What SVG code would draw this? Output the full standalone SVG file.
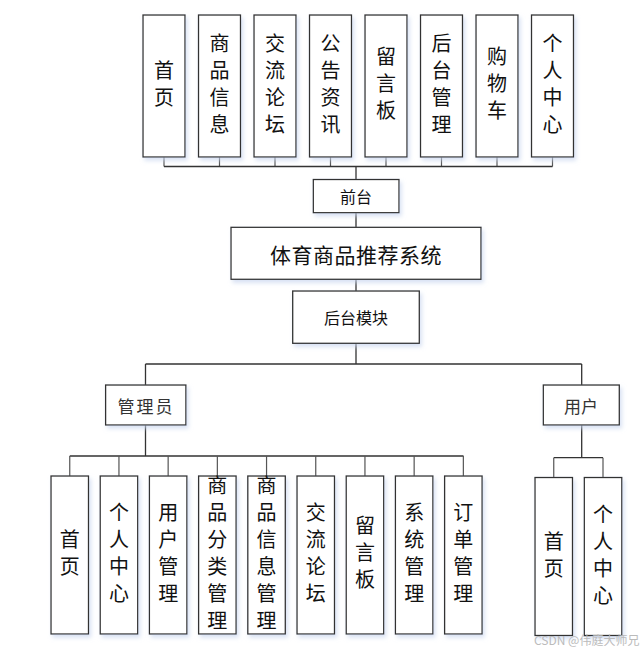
<svg xmlns="http://www.w3.org/2000/svg" width="641" height="652" viewBox="0 0 641 652">
<defs>
<filter id="sh" x="-20%" y="-20%" width="150%" height="150%">
<feDropShadow dx="2" dy="3" stdDeviation="2" flood-color="#c8d5ef" flood-opacity="0.7"/>
</filter>
<style>
.box{fill:#fff;stroke:#333;stroke-width:1.3;filter:url(#sh)}
.v{font-family:"Noto Sans CJK SC","Liberation Sans",sans-serif;font-size:20px;fill:#111;text-anchor:middle}
.h{font-family:"Noto Sans CJK SC","Liberation Sans",sans-serif;font-size:16px;fill:#111;text-anchor:middle;dominant-baseline:central}
.ln{fill:none;stroke:#333;stroke-width:1.3}
.st{fill:none;stroke:#555;stroke-width:1.2}
.wm{font-family:"Noto Sans CJK SC","Liberation Sans",sans-serif;font-size:12px;fill:#bbb}
</style>
</defs>
<rect width="641" height="652" fill="#fff"/>
<g id="connectors">
<path class="st" d="M164 157V166.5M219.5 157V166.5M275 157V166.5M330.5 157V166.5M386 157V166.5M441.5 157V166.5M497 157V166.5M552.5 157V166.5"/>
<path class="ln" d="M164 166.5H552.5"/>
<path class="ln" stroke-width="2" d="M356 166.5V179.5"/>
<path class="ln" d="M356 212.7V227.3M356 279.3V291M356 343.3V364M145.5 364H581.7M145.5 364V385M581.7 364V385"/>
<path class="ln" d="M145.5 425V456M69.75 456H463.5"/>
<path class="st" d="M69.75 456V476M118.95 456V476M168.15 456V476M217.35 456V476M266.55 456V476M315.75 456V476M364.95 456V476M414.15 456V476M463.35 456V476"/>
<path class="ln" d="M581.7 425V457.7M553.75 457.7H603"/>
<path class="st" d="M553.75 457.7V477.5M603 457.7V477.5"/>
</g>
<g id="top-1"><rect class="box" x="143" y="15" width="42" height="142"/><text class="v"><tspan x="164" y="78">首</tspan><tspan x="164" y="105">页</tspan></text></g>
<g id="top-2"><rect class="box" x="198.5" y="15" width="42" height="142"/><text class="v"><tspan x="219.5" y="51">商</tspan><tspan x="219.5" y="78">品</tspan><tspan x="219.5" y="105">信</tspan><tspan x="219.5" y="132">息</tspan></text></g>
<g id="top-3"><rect class="box" x="254" y="15" width="42" height="142"/><text class="v"><tspan x="275" y="51">交</tspan><tspan x="275" y="78">流</tspan><tspan x="275" y="105">论</tspan><tspan x="275" y="132">坛</tspan></text></g>
<g id="top-4"><rect class="box" x="309.5" y="15" width="42" height="142"/><text class="v"><tspan x="330.5" y="51">公</tspan><tspan x="330.5" y="78">告</tspan><tspan x="330.5" y="105">资</tspan><tspan x="330.5" y="132">讯</tspan></text></g>
<g id="top-5"><rect class="box" x="365" y="15" width="42" height="142"/><text class="v"><tspan x="386" y="64">留</tspan><tspan x="386" y="91">言</tspan><tspan x="386" y="118">板</tspan></text></g>
<g id="top-6"><rect class="box" x="420.5" y="15" width="42" height="142"/><text class="v"><tspan x="441.5" y="51">后</tspan><tspan x="441.5" y="78">台</tspan><tspan x="441.5" y="105">管</tspan><tspan x="441.5" y="132">理</tspan></text></g>
<g id="top-7"><rect class="box" x="476" y="15" width="42" height="142"/><text class="v"><tspan x="497" y="64">购</tspan><tspan x="497" y="91">物</tspan><tspan x="497" y="118">车</tspan></text></g>
<g id="top-8"><rect class="box" x="531.5" y="15" width="42" height="142"/><text class="v"><tspan x="552.5" y="51">个</tspan><tspan x="552.5" y="78">人</tspan><tspan x="552.5" y="105">中</tspan><tspan x="552.5" y="132">心</tspan></text></g>
<g id="qiantai"><rect class="box" x="313.3" y="179.5" width="85.7" height="33.2"/><text class="h" x="356" y="196">前台</text></g>
<g id="system"><rect class="box" x="231" y="227.3" width="250" height="52"/><text class="h" x="356" y="254" style="font-size:21px;letter-spacing:0.5px">体育商品推荐系统</text></g>
<g id="houtai"><rect class="box" x="292.7" y="291" width="126.6" height="52.3"/><text class="h" x="356" y="317">后台模块</text></g>
<g id="admin"><rect class="box" x="105.6" y="385" width="80.3" height="40"/><text class="h" x="146" y="405" style="font-size:17px;letter-spacing:2px;fill:#333">管理员</text></g>
<g id="user"><rect class="box" x="543.3" y="385" width="76" height="40"/><text class="h" x="581" y="405" style="font-size:17px;fill:#333">用户</text></g>
<g id="a-1"><rect class="box" x="51" y="476" width="37.5" height="158"/><text class="v"><tspan x="69.75" y="547">首</tspan><tspan x="69.75" y="574">页</tspan></text></g>
<g id="a-2"><rect class="box" x="100.2" y="476" width="37.5" height="158"/><text class="v"><tspan x="118.95" y="520">个</tspan><tspan x="118.95" y="547">人</tspan><tspan x="118.95" y="574">中</tspan><tspan x="118.95" y="601">心</tspan></text></g>
<g id="a-3"><rect class="box" x="149.4" y="476" width="37.5" height="158"/><text class="v"><tspan x="168.15" y="520">用</tspan><tspan x="168.15" y="547">户</tspan><tspan x="168.15" y="574">管</tspan><tspan x="168.15" y="601">理</tspan></text></g>
<g id="a-4"><rect class="box" x="198.6" y="476" width="37.5" height="158"/><text class="v"><tspan x="217.35" y="493">商</tspan><tspan x="217.35" y="520">品</tspan><tspan x="217.35" y="547">分</tspan><tspan x="217.35" y="574">类</tspan><tspan x="217.35" y="601">管</tspan><tspan x="217.35" y="628">理</tspan></text></g>
<g id="a-5"><rect class="box" x="247.8" y="476" width="37.5" height="158"/><text class="v"><tspan x="266.55" y="493">商</tspan><tspan x="266.55" y="520">品</tspan><tspan x="266.55" y="547">信</tspan><tspan x="266.55" y="574">息</tspan><tspan x="266.55" y="601">管</tspan><tspan x="266.55" y="628">理</tspan></text></g>
<g id="a-6"><rect class="box" x="297" y="476" width="37.5" height="158"/><text class="v"><tspan x="315.75" y="520">交</tspan><tspan x="315.75" y="547">流</tspan><tspan x="315.75" y="574">论</tspan><tspan x="315.75" y="601">坛</tspan></text></g>
<g id="a-7"><rect class="box" x="346.2" y="476" width="37.5" height="158"/><text class="v"><tspan x="364.95" y="533">留</tspan><tspan x="364.95" y="560">言</tspan><tspan x="364.95" y="587">板</tspan></text></g>
<g id="a-8"><rect class="box" x="395.4" y="476" width="37.5" height="158"/><text class="v"><tspan x="414.15" y="520">系</tspan><tspan x="414.15" y="547">统</tspan><tspan x="414.15" y="574">管</tspan><tspan x="414.15" y="601">理</tspan></text></g>
<g id="a-9"><rect class="box" x="444.6" y="476" width="37.5" height="158"/><text class="v"><tspan x="463.35" y="520">订</tspan><tspan x="463.35" y="547">单</tspan><tspan x="463.35" y="574">管</tspan><tspan x="463.35" y="601">理</tspan></text></g>
<g id="u-1"><rect class="box" x="535" y="477.5" width="37.5" height="158"/><text class="v"><tspan x="553.75" y="549">首</tspan><tspan x="553.75" y="576">页</tspan></text></g>
<g id="u-2"><rect class="box" x="584.3" y="477.5" width="37.5" height="158"/><text class="v"><tspan x="603.05" y="522">个</tspan><tspan x="603.05" y="549">人</tspan><tspan x="603.05" y="576">中</tspan><tspan x="603.05" y="603">心</tspan></text></g>
<text class="wm" x="534" y="645">CSDN @伟庭大师兄</text>
</svg>
